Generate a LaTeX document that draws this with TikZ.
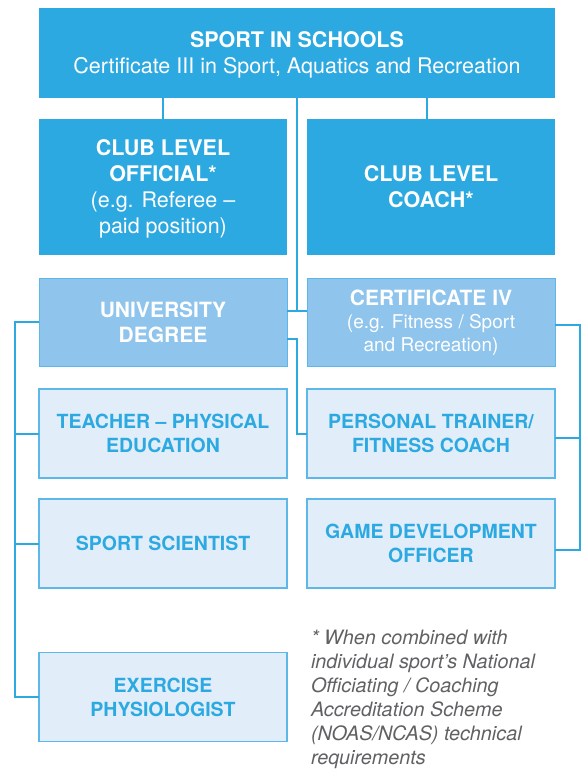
\documentclass[tikz,border=0pt]{standalone}
\usepackage{fontspec}
\setmainfont{TeX Gyre Heros}
\usetikzlibrary{positioning}
\definecolor{skyblue}{HTML}{2DA9E1}
\definecolor{midblue}{HTML}{8FC4EC}
\definecolor{paleblue}{HTML}{E1EEFA}
\definecolor{edgeblue}{HTML}{5CB8E9}
\definecolor{notegray}{HTML}{606163}
\newcommand{\subsize}{\fontsize{19pt}{22pt}\selectfont}
\newcommand{\lift}[1]{\rule{0pt}{#1}}

\begin{document}
\begin{tikzpicture}[x=1pt, y=1pt, node distance=21pt and 20pt,
    every node/.style={inner sep=0pt, outer sep=0pt, align=center},
    headbox/.style={rectangle, fill=skyblue, text=white, minimum width=248pt, minimum height=136pt, font=\fontsize{21.5pt}{26pt}\selectfont},
    degbox/.style={rectangle, draw=edgeblue, line width=1pt, fill=midblue, text=white, minimum width=248pt, minimum height=88.5pt, font=\fontsize{21pt}{24.5pt}\selectfont},
    jobbox/.style={rectangle, draw=edgeblue, line width=1.2pt, fill=paleblue, text=skyblue, minimum width=248pt, minimum height=89pt, font=\bfseries\fontsize{19.5pt}{24pt}\selectfont},
    link/.style={draw=skyblue, line width=2pt}]

\useasboundingbox (0,0) rectangle (581,-769);

% Top level
\node[headbox, minimum width=516pt, minimum height=90pt] (school) at (297,-52.5)
  {\lift{21pt}\textbf{SPORT IN SCHOOLS}\\Certificate III in Sport, Aquatics and Recreation};

% Club level
\node[headbox, below=21.5pt of school.south west, anchor=north west] (official)
  {\lift{20.5pt}\textbf{CLUB LEVEL}\\\textbf{OFFICIAL*}\\(e.g. Referee –\\paid position)};
\node[headbox, below=21.5pt of school.south east, anchor=north east] (coach)
  {\textbf{CLUB LEVEL}\\\textbf{COACH*}};

% Qualifications
\node[degbox, below=23pt of official] (degree) {\textbf{UNIVERSITY}\\\textbf{DEGREE}};
\node[degbox, below=23pt of coach] (certiv)
  {\textbf{CERTIFICATE IV}\\[-1pt]\subsize (e.g. Fitness / Sport\\[-2pt]\subsize and Recreation)};

% Careers
\node[jobbox, below=22.5pt of degree] (teacher) {TEACHER – PHYSICAL\\EDUCATION};
\node[jobbox, below=of teacher] (scientist) {SPORT SCIENTIST};
\node[jobbox, below=64.5pt of scientist] (physio) {EXERCISE\\PHYSIOLOGIST};
\node[jobbox, below=22.5pt of certiv] (trainer) {PERSONAL TRAINER/\\FITNESS COACH};
\node[jobbox, below=of trainer] (gamedev) {GAME DEVELOPMENT\\OFFICER};

% Footnote
\node[anchor=north west, align=left, text=notegray, font=\itshape\fontsize{19.8pt}{24pt}\selectfont] (note) at (311,-630.5)
  {* When combined with\\individual sport’s National\\Officiating / Coaching\\Accreditation Scheme\\(NOAS/NCAS) technical\\requirements};

% Connectors
\draw[link] (official.north) -- (official.north |- school.south);
\draw[link] ([xshift=-4pt]coach.north) -- ([xshift=-4pt]coach.north |- school.south);
\draw[link] (school.south) |- ([yshift=11pt]degree.east);
\draw[link] ([yshift=11pt]degree.east) -- ([yshift=11pt]certiv.west);
\draw[link] ([yshift=-17pt]degree.east) -- ([yshift=-17pt]degree.east -| school.south) |- (trainer.west);
\draw[link] (degree.west) -- ++(-24,0) |- (physio.west);
\draw[link] (teacher.west) -- ++(-24,0);
\draw[link] (scientist.west) -- ++(-24,0);
\draw[link] ([yshift=-3pt]certiv.east) -- ++(25,0) |- ([yshift=-6.5pt]gamedev.east);
\draw[link] ([yshift=-4.5pt]trainer.east) -- ++(25,0);

\end{tikzpicture}
\end{document}
